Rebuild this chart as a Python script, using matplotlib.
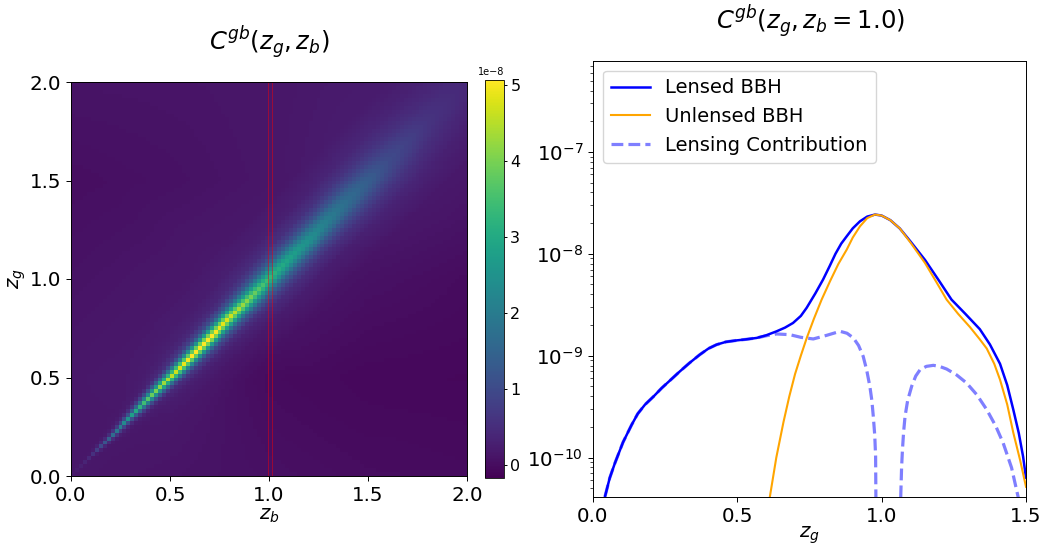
import numpy as np
import matplotlib
matplotlib.use("Agg")
import matplotlib.pyplot as plt
from matplotlib.patches import Rectangle

W, H = 1043, 545

# ---- heat map readings (units of 1e-8) ----
band_z = [0.0, 0.1, 0.2, 0.3, 0.4, 0.5, 0.6, 0.7, 0.8, 0.9, 1.0, 1.2, 1.4, 1.6, 1.8, 2.0]
band_offset = [0, 0.02, 0.04, 0.06, 0.08, 0.12, 0.16, 0.24, 0.4, 2.0]
band_values = [
    [0.0, 0, 0, 0, 0, 0, 0, 0, 0, 0],
    [0.3, .03, 0, 0, 0, 0, 0, 0, 0, 0],
    [1.4, .35, .05, .01, 0, 0, 0, 0, 0, 0],
    [2.5, 1.0, .3, .08, .03, 0, 0, 0, 0, 0],
    [3.6, 2.1, .9, .3, .1, .03, .01, 0, 0, 0],
    [4.3, 3.0, 1.6, .7, .3, .12, .06, .02, 0, 0],
    [4.9, 3.6, 2.2, 1.15, .6, .22, .12, .04, 0, 0],
    [5.0, 3.9, 2.6, 1.5, .85, .33, .17, .06, 0, 0],
    [4.6, 3.7, 2.7, 1.7, 1.05, .42, .22, .08, 0, 0],
    [3.9, 3.3, 2.5, 1.8, 1.15, .52, .27, .1, .02, 0],
    [3.1, 2.8, 2.3, 1.7, 1.2, .62, .32, .12, .02, 0],
    [2.3, 2.2, 1.9, 1.6, 1.2, .7, .4, .15, .03, 0],
    [1.5, 1.45, 1.35, 1.2, 1.0, .7, .45, .2, .05, 0],
    [.85, .82, .78, .72, .65, .5, .38, .2, .06, 0],
    [.45, .44, .42, .4, .37, .3, .25, .15, .05, 0],
    [.2, .2, .2, .19, .18, .15, .12, .08, .03, 0],
]
bg_axis = [0.0, 0.5, 1.0, 1.5, 2.0]
bg_values = [  # rows: z_g, columns: z_b
    [0.15, 0.10, 0.05, 0.00, -0.02],
    [0.15, 0.20, -0.02, -0.08, -0.08],
    [0.08, 0.15, 0.20, 0.03, -0.05],
    [0.02, 0.05, 0.10, 0.20, 0.10],
    [0.10, 0.10, 0.10, 0.15, 0.20],
]
n_cells = 100
vmin, vmax = -0.17, 5.07

# ---- curve readings: log10 C(z_g) ----
lensed_z = [.0416, .058, .076, .104, .134, .155, .18, .21, .238, .27, .301, .335, .37, .4, .428, .46, .498, .53,
            .567, .60, .636, .665, .693, .72, .74, .77, .797, .82, .84, .86, .879, .90, .925, .95, .977, 1.0,
            1.03, 1.063, 1.10, 1.15, 1.2, 1.242, 1.29, 1.34, 1.375, 1.41, 1.435, 1.456, 1.475, 1.49, 1.5]
lensed_log = [-10.382, -10.2, -10.054, -9.85, -9.678, -9.57, -9.481, -9.40, -9.318, -9.235, -9.154, -9.07, -8.99,
              -8.93, -8.892, -8.865, -8.85, -8.84, -8.826, -8.80, -8.761, -8.725, -8.679, -8.61, -8.531, -8.39,
              -8.253, -8.12, -8.0, -7.9, -7.828, -7.75, -7.681, -7.635, -7.615, -7.625, -7.67, -7.752, -7.88,
              -8.06, -8.27, -8.45, -8.59, -8.74, -8.89, -9.08, -9.29, -9.53, -9.76, -9.992, -10.198]
unlensed_z = [.613, .635, .66, .68, .70, .72, .74, .765, .792, .821, .85, .879, .90, .925, .95, .977, 1.0, 1.03,
              1.063, 1.1, 1.15, 1.19, 1.225, 1.265, 1.306, 1.34, 1.364, 1.39, 1.41, 1.435, 1.456, 1.48, 1.5]
unlensed_log = [-10.38, -10.0, -9.65, -9.40, -9.18, -9.0, -8.83, -8.64, -8.45, -8.27, -8.1, -7.959, -7.84, -7.73,
                -7.65, -7.615, -7.625, -7.67, -7.752, -7.89, -8.09, -8.28, -8.45, -8.59, -8.72, -8.84, -8.93,
                -9.08, -9.236, -9.48, -9.756, -10.03, -10.287]
lensing_left_z = [.0416, .058, .076, .104, .134, .155, .18, .21, .238, .27, .301, .335, .37, .4, .428, .46, .498,
                  .53, .567, .60, .636, .682, .72, .763, .81, .856, .88, .902, .92, .936, .948, .959, .966, .971,
                  .976, .979, .98]
lensing_left_log = [-10.382, -10.2, -10.054, -9.85, -9.678, -9.57, -9.481, -9.40, -9.318, -9.235, -9.154, -9.07,
                    -8.99, -8.93, -8.892, -8.865, -8.85, -8.84, -8.826, -8.805, -8.787, -8.794, -8.82, -8.836,
                    -8.80, -8.761, -8.78, -8.826, -8.9, -9.007, -9.14, -9.30, -9.44, -9.596, -9.78, -9.989, -10.39]
lensing_right_z = [1.066, 1.069, 1.072, 1.076, 1.081, 1.09, 1.104, 1.118, 1.133, 1.155, 1.179, 1.2, 1.225, 1.26,
                   1.294, 1.33, 1.364, 1.395, 1.421, 1.45, 1.473]
lensing_right_log = [-10.39, -10.1, -9.923, -9.75, -9.596, -9.44, -9.30, -9.2, -9.138, -9.105, -9.095, -9.105,
                     -9.131, -9.19, -9.268, -9.385, -9.53, -9.69, -9.858, -10.1, -10.39]

legend_labels = ["Lensed BBH", "Unlensed BBH", "Lensing Contribution"]


def rect(x0, y0, x1, y1):
    return [x0 / W, 1 - y1 / H, (x1 - x0) / W, (y1 - y0) / H]


def lookup(xs, ys, table, x, y):
    """Read a typed table of values at positions x, y (linear between entries)."""
    xs, ys, table = np.asarray(xs), np.asarray(ys), np.asarray(table, float)
    ix = np.clip(np.searchsorted(xs, x) - 1, 0, len(xs) - 2)
    iy = np.clip(np.searchsorted(ys, y) - 1, 0, len(ys) - 2)
    tx = (x - xs[ix]) / (xs[ix + 1] - xs[ix])
    ty = (y - ys[iy]) / (ys[iy + 1] - ys[iy])
    return (table[iy, ix] * (1 - tx) * (1 - ty) + table[iy, ix + 1] * tx * (1 - ty)
            + table[iy + 1, ix] * (1 - tx) * ty + table[iy + 1, ix + 1] * tx * ty)


edges = np.linspace(0, 2, n_cells + 1)
centers = (edges[:-1] + edges[1:]) / 2
zb, zg = np.meshgrid(centers, centers)
heat = lookup(bg_axis, bg_axis, bg_values, zb, zg) + lookup(
    band_offset, band_z, band_values, np.abs(zg - zb), (zg + zb) / 2)

fig = plt.figure(figsize=(W / 100, H / 100), dpi=100)

ax1 = fig.add_axes(rect(71, 82, 467, 476))
mesh = ax1.pcolormesh(edges, edges, heat, cmap="viridis", vmin=vmin, vmax=vmax, rasterized=True)
ax1.add_patch(Rectangle((0.995, 0), 0.02, 2, fill=False, edgecolor="red", lw=0.7, alpha=0.45, clip_on=False))
ax1.set_xlim(0, 2)
ax1.set_ylim(0, 2)
ax1.set_xticks([0, .5, 1, 1.5, 2])
ax1.set_yticks([0, .5, 1, 1.5, 2])
ax1.tick_params(labelsize=14.3, width=0.7, length=3.5)
ax1.set_xlabel(r"$z_b$", fontsize=14.3, labelpad=1)
ax1.set_ylabel(r"$z_g$", fontsize=14.3, labelpad=1)
fig.text(269 / W, 1 - 43 / H, r"$C^{gb}(z_g, z_b)$", fontsize=17.5, ha="center", va="center")

cax = fig.add_axes(rect(485, 80, 504, 478))
cb = fig.colorbar(mesh, cax=cax, ticks=[0, 1, 2, 3, 4, 5])
cb.ax.tick_params(labelsize=11.5, width=0.7, length=2.5, pad=2)
cb.outline.set_linewidth(0.6)
fig.text(491 / W, 1 - 72 / H, "1e\u22128", fontsize=7, ha="center", va="center")

ax2 = fig.add_axes(rect(593, 61, 1026, 497))
ax2.plot(lensed_z, 10.0 ** np.array(lensed_log), color="blue", lw=1.8, label=legend_labels[0])
ax2.plot(unlensed_z, 10.0 ** np.array(unlensed_log), color="orange", lw=1.5, label=legend_labels[1])
ax2.plot(lensing_left_z, 10.0 ** np.array(lensing_left_log), color="blue", alpha=0.5, lw=2.3, ls="--",
         label=legend_labels[2])
ax2.plot(lensing_right_z, 10.0 ** np.array(lensing_right_log), color="blue", alpha=0.5, lw=2.3, ls="--")
ax2.set_yscale("log")
ax2.set_xlim(0, 1.5)
ax2.set_ylim(4.1e-11, 7.8e-7)
ax2.set_xticks([0, .5, 1, 1.5])
ax2.set_yticks([1e-10, 1e-9, 1e-8, 1e-7])
ax2.tick_params(labelsize=14.3, width=0.7, length=3.5)
ax2.tick_params(which="minor", width=0.5, length=2)
ax2.set_xlabel(r"$z_g$", fontsize=14.3, labelpad=-1)
ax2.legend(loc="upper left", fontsize=14.05, bbox_to_anchor=(0.023, 0.978), borderaxespad=0)
fig.text(810 / W, 1 - 22 / H, r"$C^{gb}(z_g, z_b = 1.0)$", fontsize=17.5, ha="center", va="center")

for ax in (ax1, ax2):
    for s in ax.spines.values():
        s.set_linewidth(0.7)

fig.savefig("out.png", dpi=100)
